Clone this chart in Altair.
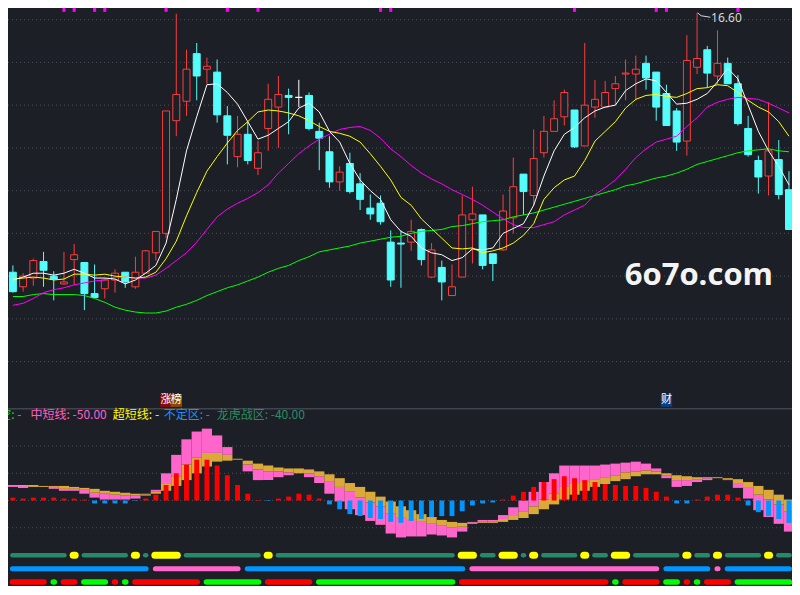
import altair as alt
import pandas as pd

# ---------------- data ----------------
opens = [11.26, 10.96, 11.14, 11.48, 11.18, 11.02, 11.52, 11.46, 10.82, 10.92,
         11.10, 11.26, 10.96, 11.24, 11.66, 12.06, 14.38, 14.78, 15.76, 15.44,
         15.38, 14.48, 13.64, 14.10, 13.40, 14.22, 14.66, 14.90, 14.86, 14.90,
         14.16, 13.74, 13.12, 13.50, 13.08, 12.58, 12.68, 11.88, 11.86, 11.88,
         12.14, 11.16, 11.36, 10.78, 11.16, 12.34, 12.44, 11.64, 11.72, 12.38,
         13.28, 12.84, 13.72, 14.16, 14.46, 14.60, 13.86, 14.66, 14.66, 15.04,
         15.34, 15.34, 15.56, 15.38, 14.94, 14.58, 13.96, 15.48, 15.84, 15.30,
         15.56, 15.14, 14.22, 13.56, 13.24, 13.58, 12.96]
closes = [10.86, 11.18, 11.50, 11.30, 11.12, 11.06, 11.62, 10.82, 10.74, 11.10,
          11.24, 11.06, 11.26, 11.70, 12.10, 14.58, 14.92, 15.44, 15.30, 15.50,
          14.50, 14.08, 14.10, 13.56, 13.72, 14.82, 14.92, 14.86, 14.86, 14.22,
          14.02, 13.12, 13.32, 12.92, 12.76, 12.46, 12.30, 11.10, 11.84, 12.10,
          11.52, 11.72, 11.06, 10.96, 12.44, 12.46, 11.40, 11.44, 12.52, 13.02,
          12.92, 13.60, 14.16, 14.42, 14.96, 13.84, 14.70, 14.82, 14.96, 15.14,
          15.36, 15.44, 15.26, 14.66, 14.28, 13.94, 15.62, 15.66, 15.36, 15.56,
          15.14, 14.32, 13.68, 13.22, 13.76, 12.86, 12.14]
highs = [11.40, 11.24, 11.54, 11.68, 11.28, 11.68, 11.84, 11.46, 11.42, 11.14,
         11.32, 11.26, 11.58, 11.72, 12.10, 14.58, 16.58, 15.84, 15.98, 15.68,
         15.64, 14.68, 14.48, 14.36, 13.96, 15.14, 15.30, 15.04, 15.22, 14.96,
         14.34, 14.06, 13.44, 13.72, 13.30, 12.86, 12.84, 12.12, 12.12, 12.34,
         12.16, 11.86, 11.50, 11.42, 12.84, 13.02, 12.44, 11.64, 12.86, 13.62,
         13.28, 14.20, 14.48, 14.80, 15.02, 14.60, 15.98, 15.22, 15.20, 15.30,
         15.64, 15.72, 15.72, 15.38, 15.12, 14.64, 16.14, 16.60, 15.92, 16.24,
         15.68, 15.32, 14.48, 13.66, 14.76, 13.98, 13.34]
lows = [10.84, 10.86, 10.98, 10.96, 10.68, 11.00, 11.00, 10.48, 10.74, 10.72,
        10.84, 10.94, 10.92, 11.24, 11.50, 11.96, 14.06, 14.48, 14.80, 15.14,
        14.34, 13.48, 13.42, 13.48, 13.26, 13.76, 13.82, 14.10, 14.66, 14.18,
        13.36, 13.00, 12.94, 12.88, 12.54, 12.34, 12.24, 10.96, 10.94, 11.70,
        11.40, 11.14, 10.68, 10.78, 11.16, 11.44, 11.32, 11.08, 11.70, 12.06,
        12.44, 12.62, 13.62, 14.16, 14.28, 13.82, 13.86, 14.44, 14.64, 14.70,
        14.80, 14.80, 15.02, 14.38, 14.28, 13.76, 13.66, 15.34, 15.06, 15.12,
        15.14, 14.28, 13.64, 12.88, 12.84, 12.76, 12.14]

ma5 = [11.10, 11.16, 11.24, 11.24, 11.20, 11.24, 11.32, 11.24, 11.14, 11.14,
       11.12, 11.02, 11.10, 11.24, 11.40, 11.86, 12.76, 13.76, 14.46, 15.12,
       15.14, 14.96, 14.72, 14.36, 14.00, 14.08, 14.22, 14.36, 14.64, 14.74,
       14.56, 14.16, 13.94, 13.50, 13.16, 12.94, 12.76, 12.34, 12.10, 12.00,
       11.76, 11.66, 11.62, 11.50, 11.56, 11.74, 11.72, 11.76, 12.06, 12.16,
       12.26, 12.64, 13.24, 13.76, 14.10, 14.24, 14.44, 14.58, 14.66, 14.70,
       15.00, 15.14, 15.24, 15.20, 14.96, 14.72, 14.74, 14.82, 14.94, 15.18,
       15.46, 15.24, 14.70, 14.16, 13.76, 13.44, 13.06]
ma10 = [11.12, 11.14, 11.16, 11.14, 11.10, 11.12, 11.22, 11.22, 11.20, 11.22,
        11.18, 11.16, 11.14, 11.16, 11.26, 11.54, 11.90, 12.42, 12.90, 13.34,
        13.64, 13.92, 14.18, 14.36, 14.56, 14.60, 14.58, 14.54, 14.48, 14.38,
        14.26, 14.16, 14.12, 14.06, 13.94, 13.70, 13.44, 13.16, 12.80, 12.64,
        12.36, 12.16, 11.96, 11.76, 11.74, 11.76, 11.66, 11.70, 11.76, 11.86,
        12.02, 12.26, 12.76, 13.00, 13.16, 13.24, 13.56, 13.96, 14.16, 14.36,
        14.64, 14.82, 14.90, 14.92, 14.88, 14.86, 14.94, 15.04, 15.06, 15.12,
        15.10, 14.96, 14.80, 14.66, 14.56, 14.36, 14.06]
ma20 = [10.58, 10.62, 10.72, 10.84, 10.90, 10.94, 11.00, 11.04, 11.08, 11.10,
        11.16, 11.16, 11.14, 11.14, 11.20, 11.34, 11.50, 11.66, 11.88, 12.14,
        12.40, 12.56, 12.68, 12.78, 12.90, 13.06, 13.30, 13.50, 13.70, 13.86,
        14.00, 14.10, 14.20, 14.24, 14.26, 14.18, 14.02, 13.80, 13.64, 13.46,
        13.30, 13.18, 13.08, 12.96, 12.86, 12.76, 12.64, 12.50, 12.36, 12.24,
        12.18, 12.18, 12.24, 12.30, 12.44, 12.54, 12.64, 12.86, 13.00, 13.16,
        13.38, 13.62, 13.80, 13.94, 14.00, 14.06, 14.26, 14.44, 14.66, 14.76,
        14.82, 14.86, 14.84, 14.82, 14.74, 14.64, 14.54]
ma60 = [10.76, 10.76, 10.80, 10.82, 10.80, 10.80, 10.80, 10.78, 10.72, 10.64,
        10.54, 10.48, 10.44, 10.42, 10.42, 10.46, 10.54, 10.60, 10.68, 10.78,
        10.86, 10.94, 11.00, 11.08, 11.16, 11.26, 11.34, 11.40, 11.50, 11.58,
        11.68, 11.72, 11.76, 11.80, 11.86, 11.90, 11.94, 11.98, 12.00, 12.06,
        12.10, 12.12, 12.14, 12.20, 12.22, 12.26, 12.30, 12.32, 12.34, 12.40,
        12.44, 12.48, 12.54, 12.60, 12.66, 12.72, 12.78, 12.84, 12.90, 12.96,
        13.04, 13.08, 13.14, 13.20, 13.24, 13.30, 13.38, 13.48, 13.54, 13.60,
        13.66, 13.72, 13.76, 13.78, 13.80, 13.76, 13.74]

# lower indicator: pink band (a -> m), gold band (m -> b), histogram
band_a = [14, 13, 14, 14, 12, 10, 10, 7, 3, 1,
          1, 1, 2, 5, 11, 28, 47, 63, 71, 74,
          67, 55, 43, 30, 21, 21, 24, 26, 28, 24,
          18, 7, -1, -9, -15, -21, -25, -34, -38, -37,
          -37, -35, -36, -38, -32, -22, -20, -20, -15, -7,
          0, 9, 19, 28, 36, 36, 36, 36, 37, 38,
          39, 40, 38, 33, 23, 14, 15, 19, 21, 23,
          21, 13, 2, -10, -17, -24, -32]
band_m = [15, 15, 14, 14, 14, 12, 12, 11, 8, 7,
          6, 5, 5, 6, 9, 17, 25, 37, 44, 49,
          49, 47, 43, 37, 32, 30, 30, 29, 28, 28,
          25, 20, 14, 9, 3, -2, -6, -13, -17, -20,
          -22, -24, -26, -28, -27, -23, -22, -22, -19, -15,
          -11, -6, 1, 7, 14, 17, 19, 22, 24, 26,
          29, 30, 31, 30, 26, 21, 21, 22, 23, 23,
          22, 18, 13, 6, 1, -4, -11]
band_b = [16, 16, 16, 15, 15, 15, 14, 13, 12, 10,
          9, 8, 7, 7, 7, 10, 15, 21, 28, 35,
          40, 41, 42, 41, 38, 36, 34, 33, 33, 32,
          30, 27, 23, 18, 14, 9, 4, -1, -6, -10,
          -14, -17, -20, -22, -23, -24, -23, -23, -22, -20,
          -18, -14, -9, -4, 1, 6, 10, 14, 17, 20,
          22, 25, 27, 27, 28, 26, 25, 24, 24, 24,
          23, 22, 19, 15, 11, 6, 1]
hist = [3, 2, 3, 3, 3, 2, 2, 1, -3, -3,
        -3, -3, -0.5, 2, 6, 16, 28, 37, 42, 42,
        36, 26, 16, 7, 0.5, -0.5, 2, 4, 7, 6,
        2, -4, -9, -14, -16, -18, -19, -22, -23, -21,
        -19, -17, -16, -16, -11, -5, -3, -2, 1, 5,
        9, 14, 19, 22, 25, 23, 21, 19, 17, 16,
        15, 15, 13, 9, 4, -3, -3, 1, 4, 6,
        6, 3, -5, -12, -16, -19, -23]

# state rows at the bottom (one letter per candle)
row1 = ("gggggg" "y" "ggggg" "y" "g" "yyy" "gggggggg" "y" "gggggggggggggggggg"
        "yy" "gg" "yy" "g" "y" "gggg" "y" "gg" "yy" "ggggg" "y" "gg" "y" "gggg" "y" "gg")
row2 = ("bbbbbbbbbbbbbb" "ppppppppp" "bbbbbbbbbbbbbbbbbbbbbb" "ppppppppppppppppppp"
        "bbbbb" "p" "bbbbbbb")
row3 = ("rrrr" "g" "rr" "ggg" "r" "g" "rrrrrrr" "gggggg" "rrrrr" "gggggggggggggg"
        "rrrrrrrrrrrrrrr" "g" "rrrr" "gg" "r" "g" "rrr" "gggggg")

marker_idx = [5, 6, 8, 9, 15, 21, 24, 36, 37, 55, 63, 64, 71]
tag_idx = [15, 16, 64]
tag_text = ["涨", "榜", "财"]
grid_top = [16.46, 15.58, 14.70, 13.82, 12.94, 12.06, 11.18, 10.30, 9.42]
grid_low = [56, 28, 0, -28]
legend_text = ["空: -", "中短线: -50.00", "超短线: -", "不定区: -", "龙虎战区: -40.00"]

# ---------------- layout / style ----------------
W, H = 784, 578
FX, FY = W / 800.0, H / 595.0
BG = "#1c1f26"
RED, CYAN = "#ff3c3c", "#54fcfc"
FONT = "Noto Sans CJK SC"

n = len(opens)
idx = list(range(n))
x0, step = 5 * FX, 10.42 * FX
xs = alt.Scale(domain=[-x0 / step, (W - x0) / step], nice=False, zero=False)
ytop = alt.Scale(domain=[16.70 - 0.02 * 417, 16.70], range=[417 * FY, 0], nice=False, zero=False)
ylow = alt.Scale(domain=[-90, 90], range=[597 * FY, 417 * FY], nice=False, zero=False)
yrow = alt.Scale(type="point", domain=["r1", "r2", "r3"], range=[563.3 * FY, 591 * FY], padding=0)


def X(f):
    return alt.X(f, type="quantitative", scale=xs, axis=None)


def YT(f):
    return alt.Y(f, type="quantitative", scale=ytop, axis=None)


def YL(f):
    return alt.Y(f, type="quantitative", scale=ylow, axis=None)


layers = []

# grid lines
layers.append(alt.Chart(pd.DataFrame({"p": grid_top})).mark_rule(
    color="#4a4e59", strokeDash=[1, 3], strokeWidth=1).encode(
    y=YT("p"), x=alt.value(0), x2=alt.value(W)))
layers.append(alt.Chart(pd.DataFrame({"v": grid_low})).mark_rule(
    color="#4a4e59", strokeDash=[1, 3], strokeWidth=1).encode(
    y=YL("v"), x=alt.value(0), x2=alt.value(W)))

# candles
cdf = pd.DataFrame({"i": idx, "o": opens, "c": closes, "h": highs, "l": lows})
cdf["col"] = [RED if c > o else (CYAN if c < o else "#ffffff") for o, c in zip(opens, closes)]
cdf["fill"] = [BG if c > o else col for o, c, col in zip(opens, closes, cdf["col"])]
cdf["x1"] = cdf["i"] - 0.34
cdf["x2"] = cdf["i"] + 0.34
layers.append(alt.Chart(cdf).mark_rule(strokeWidth=1).encode(
    x=X("i"), y=YT("l"), y2="h:Q", color=alt.Color("col:N", scale=None)))
layers.append(alt.Chart(cdf).mark_rect(strokeWidth=1).encode(
    x=X("x1"), x2="x2:Q", y=YT("o"), y2="c:Q",
    fill=alt.Fill("fill:N", scale=None), stroke=alt.Stroke("col:N", scale=None)))

# moving averages
for vals, colr in [(ma60, "#00ff00"), (ma20, "#ff00ff"), (ma10, "#ffff00"), (ma5, "#ffffff")]:
    layers.append(alt.Chart(pd.DataFrame({"i": idx, "v": vals})).mark_line(
        color=colr, strokeWidth=1).encode(x=X("i"), y=YT("v")))

# top markers
mdf = pd.DataFrame({"i": marker_idx})
mdf["x1"] = mdf["i"] - 0.15
mdf["x2"] = mdf["i"] + 0.15
layers.append(alt.Chart(mdf).mark_rect(color="#ff00ff").encode(
    x=X("x1"), x2="x2:Q", y=alt.value(0), y2=alt.value(4 * FY)))

# max price annotation
hmax = max(highs)
imax = highs.index(hmax)
adf = pd.DataFrame({"i": [imax + 0.05, imax + 0.4, imax + 1.3], "p": [hmax, hmax - 0.06, hmax - 0.09]})
layers.append(alt.Chart(adf).mark_line(color="#d8d8d8", strokeWidth=1).encode(x=X("i"), y=YT("p")))
layers.append(alt.Chart(pd.DataFrame({"i": [imax], "p": [hmax], "t": [f"{hmax:.2f}"]})).mark_text(
    align="left", baseline="middle", dx=14, dy=5, font="Noto Sans", fontSize=12, color="#d8d8d8").encode(
    x=X("i"), y=YT("p"), text="t:N"))

# watermark
layers.append(alt.Chart(pd.DataFrame({"t": ["6o7o.com"]})).mark_text(
    font="Open Sans", fontSize=31, fontWeight="bold", color="#f4f4f4").encode(
    text="t:N", x=alt.value(705 * FX), y=alt.value(276 * FY)))

# tags
tdf = pd.DataFrame({"i": tag_idx, "t": tag_text, "bg": ["#8e0a0a", "#8a4a00", "#0c3d7c"]})
tdf["x1"] = tdf["i"] - 0.56
tdf["x2"] = tdf["i"] + 0.56
layers.append(alt.Chart(tdf).mark_rect().encode(
    x=X("x1"), x2="x2:Q", y=alt.value(397.4 * FY), y2=alt.value(410.6 * FY),
    fill=alt.Fill("bg:N", scale=None)))
layers.append(alt.Chart(tdf).mark_text(font=FONT, fontSize=11, color="#ffffff").encode(
    x=X("i"), y=alt.value(404 * FY), text="t:N"))

# separator
layers.append(alt.Chart(pd.DataFrame({"a": [0]})).mark_rule(color="#40444f", strokeWidth=1.5).encode(
    x=alt.value(0), x2=alt.value(W), y=alt.value(412.5 * FY)))

# legend line
leg_x = [-9, 23, 107, 159, 213]
leg_c = ["#33cc33", "#ff5fc8", "#ffff00", "#1e90ff", "#2b8c64"]
for t, lx, lc in zip(legend_text, leg_x, leg_c):
    layers.append(alt.Chart(pd.DataFrame({"t": [t]})).mark_text(
        align="left", baseline="middle", font=FONT, fontSize=12, color=lc).encode(
        text="t:N", x=alt.value(lx * FX), y=alt.value(419 * FY)))

# lower bands + histogram
bdf = pd.DataFrame({"i": idx, "a": band_a, "m": band_m, "b": band_b, "h": hist})
bdf["x1"] = bdf["i"] - 0.5
bdf["x2"] = bdf["i"] + 0.5
bdf["hx1"] = bdf["i"] - 0.24
bdf["hx2"] = bdf["i"] + 0.24
bdf["z"] = 0
bdf["hc"] = ["#ff0000" if h >= 0 else "#0096ff" for h in hist]
layers.append(alt.Chart(bdf).mark_rect(color="#ff66cc").encode(x=X("x1"), x2="x2:Q", y=YL("a"), y2="m:Q"))
layers.append(alt.Chart(bdf).mark_rect(color="#dba83a").encode(x=X("x1"), x2="x2:Q", y=YL("m"), y2="b:Q"))
layers.append(alt.Chart(bdf).mark_rect().encode(
    x=X("hx1"), x2="hx2:Q", y=YL("z"), y2="h:Q", fill=alt.Fill("hc:N", scale=None)))

# state rows


def runs(s):
    out, start = [], 0
    for k in range(1, len(s) + 1):
        if k == len(s) or s[k] != s[start]:
            out.append((start, k - 1, s[start]))
            start = k
    return out


style = {
    "r1": {"g": ("#268a68", 4.5, 0.05), "y": ("#ffff00", 7, 0.1)},
    "r2": {"b": ("#0096ff", 5, 0.05), "p": ("#ff66cc", 5, 0.05)},
    "r3": {"r": ("#ff0000", 5.5, 0.05), "g": ("#00ff00", 5.5, 0.05)},
}
recs = []
for rname, s in [("r1", row1), ("r2", row2), ("r3", row3)]:
    for a, b, st in runs(s):
        colr, sw, ext = style[rname][st]
        recs.append({"row": rname, "s": a - ext, "e": b + ext, "c": colr, "sw": sw})
rdf = pd.DataFrame(recs)
layers.append(alt.Chart(rdf).mark_rule(strokeCap="round").encode(
    x=X("s"), x2="e:Q", y=alt.Y("row:N", scale=yrow, axis=None),
    color=alt.Color("c:N", scale=None), strokeWidth=alt.StrokeWidth("sw:Q", scale=None)))

chart = alt.layer(*layers).resolve_scale(y="independent").properties(
    width=W, height=H, padding=0, background=BG,
    autosize=alt.AutoSizeParams(type="none")).configure_view(strokeWidth=0)

chart.save("out.html", embed_options={"renderer": "svg", "actions": False})
